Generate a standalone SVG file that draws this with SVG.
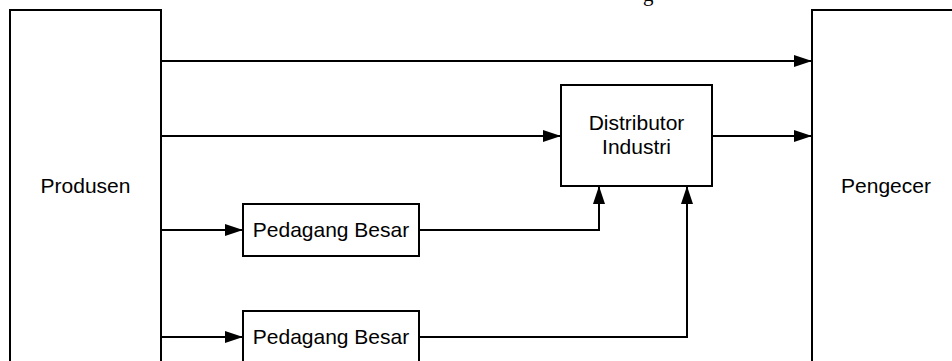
<svg xmlns="http://www.w3.org/2000/svg" width="952" height="361" viewBox="0 0 952 361">
<style>
.box{fill:#fff;stroke:#000;stroke-width:2}
.lbl{font-family:"Liberation Sans",Arial,sans-serif;font-size:21px;fill:#000;text-anchor:middle}
.con{fill:none;stroke:#000;stroke-width:2}
</style>
<defs>
<marker id="arr" markerUnits="userSpaceOnUse" markerWidth="18" markerHeight="12" refX="18" refY="6" orient="auto">
<path d="M0,0 L18,6 L0,12 z" fill="#000"/>
</marker>
</defs>
<rect width="952" height="361" fill="#fff"/>
<text x="643" y="1" style="font-family:'Liberation Serif','Times New Roman',serif;font-size:21px">g</text>
<g id="produsen">
<rect class="box" x="10" y="10" width="151" height="400"/>
<text class="lbl" x="85.5" y="193">Produsen</text>
</g>
<g id="pengecer">
<rect class="box" x="812" y="10" width="151" height="400"/>
<text class="lbl" x="886" y="193">Pengecer</text>
</g>
<g id="distributor">
<rect class="box" x="561" y="85" width="151" height="101"/>
<text class="lbl" x="636.5" y="130">Distributor</text>
<text class="lbl" x="636.5" y="154">Industri</text>
</g>
<g id="pedagang1">
<rect class="box" x="243" y="204" width="176" height="52"/>
<text class="lbl" x="331" y="237">Pedagang Besar</text>
</g>
<g id="pedagang2">
<rect class="box" x="243" y="311" width="176" height="52"/>
<text class="lbl" x="331" y="344">Pedagang Besar</text>
</g>
<g id="connectors">
<path class="con" d="M161,61 H812" marker-end="url(#arr)"/>
<path class="con" d="M161,136 H561" marker-end="url(#arr)"/>
<path class="con" d="M712,136 H812" marker-end="url(#arr)"/>
<path class="con" d="M161,230 H243" marker-end="url(#arr)"/>
<path class="con" d="M161,337 H243" marker-end="url(#arr)"/>
<path class="con" d="M419,230 H599 V186" marker-end="url(#arr)"/>
<path class="con" d="M419,337 H687 V186" marker-end="url(#arr)"/>
</g>
</svg>
